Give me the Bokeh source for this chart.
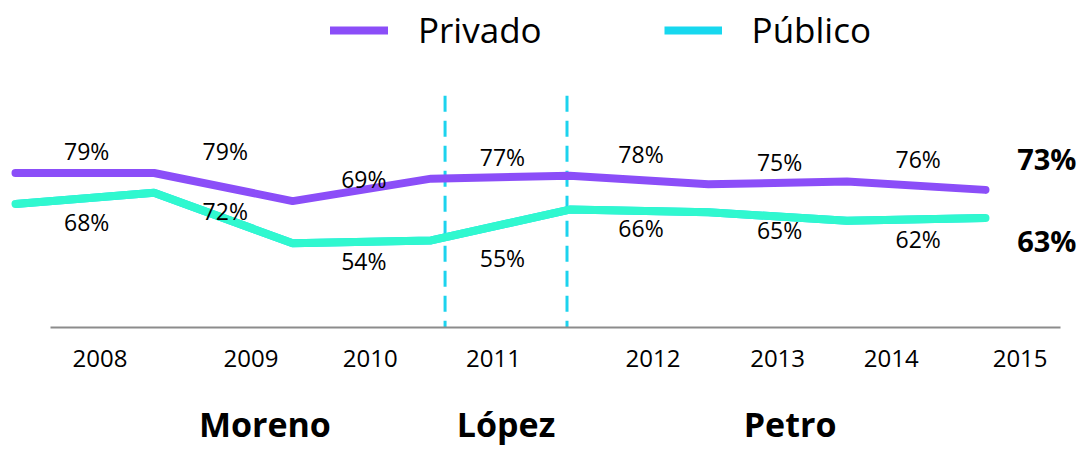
from bokeh.plotting import figure
from bokeh.models import (Range1d, FixedTicker, LinearAxis, Legend, LegendItem, ColumnDataSource)
from bokeh.embed import file_html
from bokeh.resources import INLINE
from bokeh.core.properties import value

# ---------------- data ----------------
years = ["2008", "2009", "2010", "2011", "2012", "2013", "2014", "2015"]
privado = [79, 79, 69, 77, 78, 75, 76, 73]
publico = [68, 72, 54, 55, 66, 65, 62, 63]
series_names = ["Privado", "Público"]
presidents = ["Moreno", "López", "Petro"]

# ---------------- layout (positions in index units) ----------------
idx = list(range(len(years)))
year_label_pos = [0.61, 1.70, 2.56, 3.45, 4.60, 5.50, 6.32, 7.25]
president_label_pos = [1.80, 3.54, 5.59]
divider_pos = [3.1, 3.98]
divider_top = 106.5
label_shift = 0.55

PURPLE = "#8b4ef8"
MINT = "#30f8cf"
CYAN = "#1cd3ee"
LEG_CYAN = "#17d8ef"
FONT = "Open Sans"

p = figure(width=1077, height=449,
           x_range=Range1d(-0.1082, 7.664), y_range=Range1d(24, 140.43),
           min_border=0, toolbar_location=None,
           output_backend="svg", y_axis_location=None, outline_line_color=None)
p.xgrid.visible = False
p.ygrid.visible = False

# year axis
ax = p.xaxis[0]
ax.ticker = FixedTicker(ticks=year_label_pos)
ax.major_label_overrides = {pos: y for pos, y in zip(year_label_pos, years)}
ax.bounds = (0.2526, 7.541)
ax.axis_line_color = "#8c8c8c"
ax.axis_line_width = 2
ax.major_tick_line_color = None
ax.minor_tick_line_color = None
ax.major_tick_out = 0
ax.major_tick_in = 0
ax.minor_tick_out = 0
ax.minor_tick_in = 0
ax.major_label_standoff = 22
ax.major_label_text_font = FONT
ax.major_label_text_font_size = "24px"
ax.major_label_text_color = "black"

# president axis (names below the years)
nax = LinearAxis(ticker=FixedTicker(ticks=president_label_pos),
                 major_label_overrides={pos: n for pos, n in zip(president_label_pos, presidents)},
                 axis_line_color=None, major_tick_line_color=None, minor_tick_line_color=None,
                 major_tick_out=0, major_tick_in=0, minor_tick_out=0, minor_tick_in=0,
                 major_label_standoff=31, major_label_text_font=FONT,
                 major_label_text_font_size="34px", major_label_text_font_style="bold",
                 major_label_text_color="black")
p.add_layout(nax, "below")

# term dividers
p.segment(x0=divider_pos, y0=[divider_top] * len(divider_pos),
          x1=divider_pos, y1=[p.y_range.start] * len(divider_pos),
          line_color=CYAN, line_width=3, line_dash="16 9")

# lines
src = ColumnDataSource(dict(x=idx, privado=privado, publico=publico))
r_pub_leg = p.line("x", "publico", source=src, line_color=LEG_CYAN, line_width=8)
p.line("x", "publico", source=src, line_color=MINT, line_width=8,
       line_join="round", line_cap="round")
r_priv = p.line("x", "privado", source=src, line_color=PURPLE, line_width=8,
                line_join="round", line_cap="round")

# value labels
label_x = [i + label_shift for i in idx]
lab = ColumnDataSource(dict(x=label_x[:-1], yp=privado[:-1], yq=publico[:-1],
                            tp=[f"{v}%" for v in privado[:-1]],
                            tq=[f"{v}%" for v in publico[:-1]]))
common = dict(source=lab, text_align="center", text_baseline="alphabetic",
              text_font=value(FONT), text_font_size="23px", text_color="black", x_offset=-5)
p.text("x", "yp", text="tp", y_offset=-22, **common)
p.text("x", "yq", text="tq", y_offset=18, **common)

end = ColumnDataSource(dict(x=[idx[-1] + 0.5] * 2, y=[privado[-1], publico[-1]],
                            t=[f"{privado[-1]}%", f"{publico[-1]}%"], off=[-31, 23]))
p.text("x", "y", text="t", source=end, y_offset="off", x_offset=-8,
       text_align="center", text_baseline="alphabetic", text_font=value(FONT),
       text_font_size="29px", text_font_style="bold", text_color="black")

# legend
legend = Legend(items=[LegendItem(label=series_names[0], renderers=[r_priv]),
                       LegendItem(label=series_names[1], renderers=[r_pub_leg])],
                orientation="horizontal", location=(330, 274),
                glyph_width=58, glyph_height=20, label_standoff=30, spacing=122,
                padding=0, margin=0, border_line_color=None, background_fill_alpha=0,
                label_text_font=FONT, label_text_font_size="35px",
                label_text_color="black")
p.add_layout(legend)

open("out.html", "w").write(file_html(p, INLINE))
